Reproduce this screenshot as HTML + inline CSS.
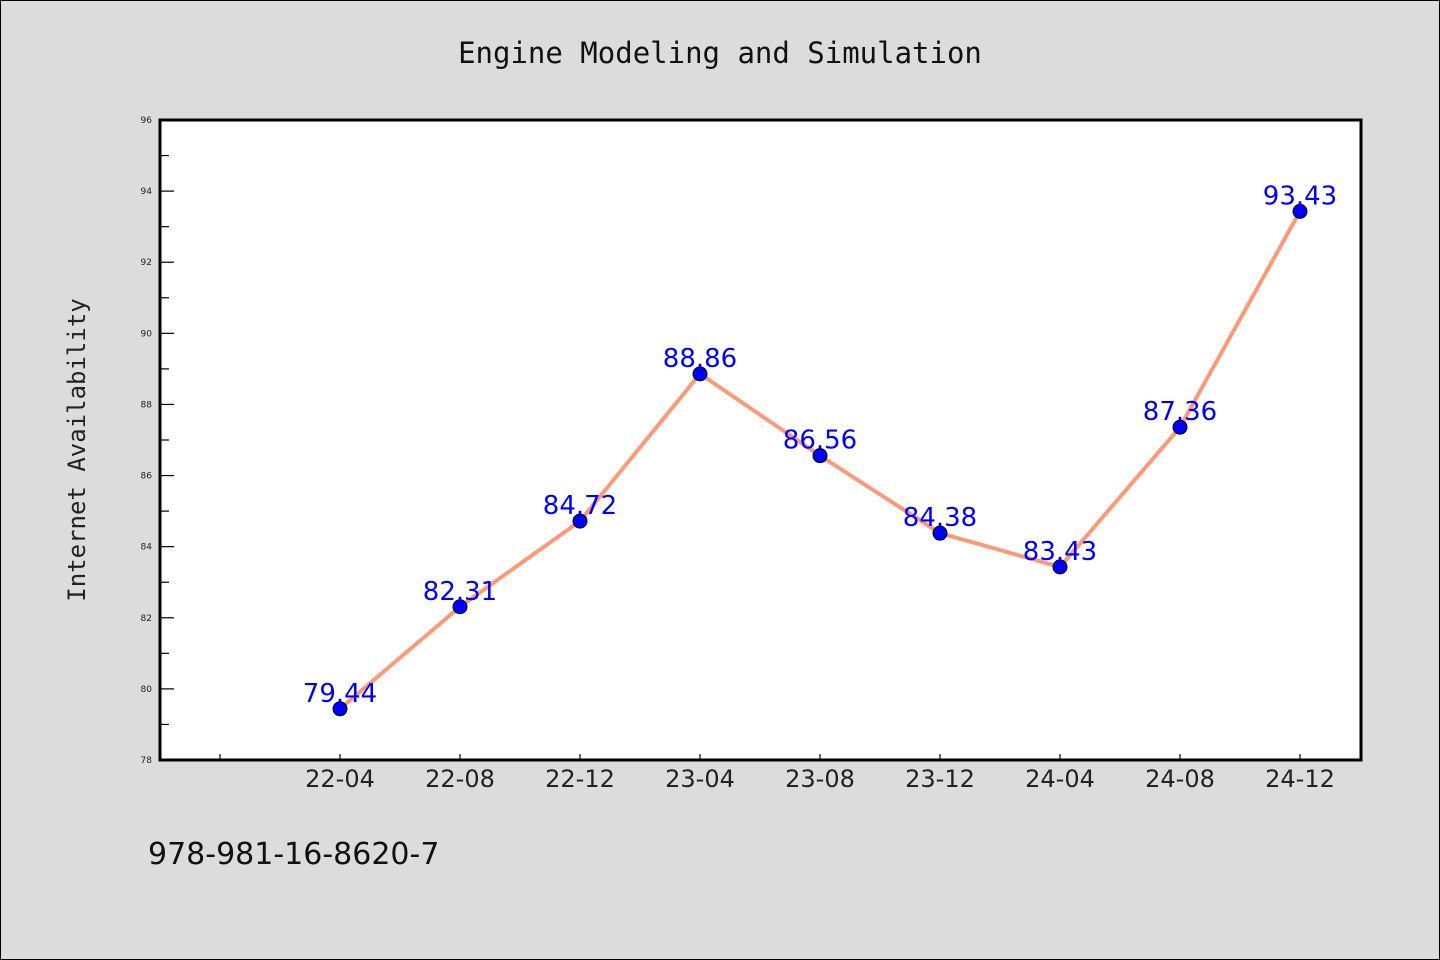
<!DOCTYPE html>
<html><head><meta charset="utf-8"><style>
body{margin:0;background:#dcdcdc;}
svg{display:block;font-family:"DejaVu Sans","Liberation Sans",sans-serif;}
</style></head><body>
<svg width="1440" height="960">
<rect x="0.5" y="0.5" width="1439" height="959" fill="#dcdcdc" stroke="#000"/>
<text x="720" y="63" text-anchor="middle" font-size="29" fill="#111" font-family="DejaVu Sans Mono, Liberation Mono, monospace">Engine Modeling and Simulation</text>
<rect x="160" y="120" width="1201" height="640" fill="#fff"/>
<g id="grid"></g>
<g id="ticks"></g>
<g id="series"></g>
<rect x="160" y="120" width="1201" height="640" fill="none" stroke="#000" stroke-width="3"/>
<text transform="translate(85,450) rotate(-90)" text-anchor="middle" font-size="24" fill="#222" font-family="DejaVu Sans Mono, Liberation Mono, monospace">Internet Availability</text>
<text x="148" y="864" font-size="30" fill="#111">978-981-16-8620-7</text>
</svg>
<script>
const categories=["22-04","22-08","22-12","23-04","23-08","23-12","24-04","24-08","24-12"];
const values=[79.44,82.31,84.72,88.86,86.56,84.38,83.43,87.36,93.43];
const yTicks=[78,80,82,84,86,88,90,92,94,96];
const NS="http://www.w3.org/2000/svg";
const L=160,R=1361,T=120,B=760,yMin=78,yMax=96;
const y=v=>B-(v-yMin)/(yMax-yMin)*(B-T);
const x=i=>220+120*(i+1);
function mk(tag,attrs,parent){const e=document.createElementNS(NS,tag);for(const k in attrs)e.setAttribute(k,attrs[k]);parent.appendChild(e);return e;}
const tk=document.getElementById('ticks'),se=document.getElementById('series');
yTicks.forEach(v=>{
  const l=mk('line',{x1:L,x2:L+14,y1:y(v),y2:y(v),stroke:'#000','stroke-width':1.2},tk);
  
  
  const t=mk('text',{x:L-8,y:y(v)+3,'text-anchor':'end','font-size':9,fill:'#222'},tk);
  t.textContent=v;
  
  
  if(v<yMax){const m=mk('line',{x1:L,x2:L+9,y1:y(v+1),y2:y(v+1),stroke:'#000','stroke-width':1.2},tk);
  
  }
});
for(let i=-1;i<categories.length;i++){
  const l=mk('line',{x1:x(i),x2:x(i),y1:B,y2:B-6,stroke:'#000','stroke-width':1.2},tk);
  
  
  if(i>=0){const t=mk('text',{x:x(i),y:B+27,'text-anchor':'middle','font-size':24,fill:'#222'},tk);
  t.textContent=categories[i];
  
  }
}
const pl=mk('polyline',{points:values.map((v,i)=>x(i)+','+y(v)).join(' '),fill:'none',stroke:'#fa9a78','stroke-width':4,'stroke-linejoin':'round'},se);


values.forEach((v,i)=>{
  const c=mk('circle',{cx:x(i),cy:y(v),r:7,fill:'#0000ff',stroke:'#000','stroke-width':1},se);
  
  
});
values.forEach((v,i)=>{
  const t=mk('text',{x:x(i),y:y(v)-7,'text-anchor':'middle','font-size':26,fill:'#0000ff'},se);
  t.textContent=v.toFixed(2);
  
  
});
</script>
</body></html>
